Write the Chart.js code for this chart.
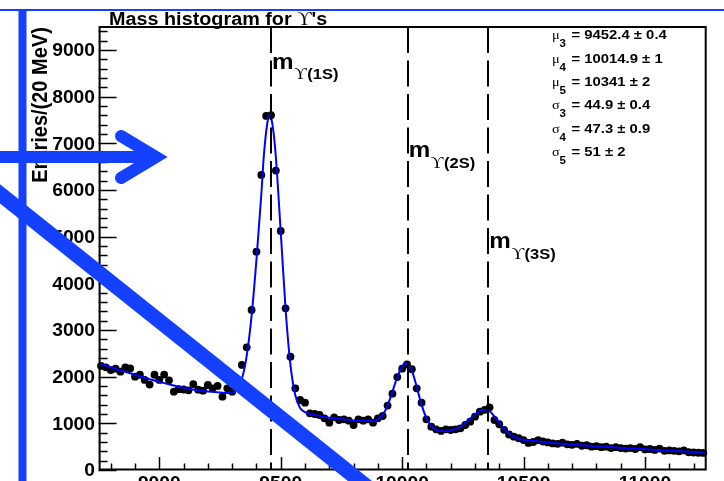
<!DOCTYPE html>
<html>
<head>
<meta charset="utf-8">
<script src="https://cdn.jsdelivr.net/npm/chart.js@4.4.0/dist/chart.umd.min.js"></script>
<style>
  html, body { margin: 0; padding: 0; background: #ffffff; overflow: hidden; }
  canvas { display: block; }
</style>
</head>
<body>
<canvas id="chart" width="724" height="481"></canvas>
<script>
// ---- histogram binning (20 MeV bins from 8750 to 11250 MeV) ----
const binLow = 8750;
const binWidth = 20;

// entries per bin
const binCounts = [
  2230, 2200, 2140, 2170, 2106, 2200, 2175, 2000, 2040, 1930,
  1830, 2040, 1930, 2045, 1920, 1678, 1732, 1725, 1707, 1840,
  1720, 1700, 1821, 1750, 1800, 1571, 1750, 1678, 1780, 2250,
  2629, 3428, 4678, 6321, 7585, 7600, 6414, 5121, 3464, 2428,
  1750, 1500, 1443, 1214, 1200, 1178, 1107, 1014, 1128, 1071,
  1086, 1057, 964, 1086, 1057, 1086, 1014, 1107, 1157, 1380,
  1635, 1990, 2170, 2260, 2160, 1750, 1443, 1086, 929, 871,
  836, 871, 857, 871, 893, 964, 1036, 1143, 1250, 1290,
  1343, 1071, 980, 860, 760, 714, 680, 640, 580, 600,
  640, 610, 590, 570, 560, 585, 550, 540, 560, 520,
  530, 500, 510, 490, 500, 470, 490, 470, 460, 470,
  450, 490, 440, 450, 430, 460, 410, 420, 410, 400,
  420, 380, 375, 370, 365
];

// fitted curve (three peaks on a falling background)
const fitMass = [
  8750, 8800, 8850, 8900, 8950, 9000, 9050, 9100, 9150, 9200,
  9250, 9280, 9300, 9320, 9340, 9360, 9380, 9400, 9420, 9430,
  9440, 9450, 9455, 9460, 9470, 9480, 9500, 9520, 9540, 9560,
  9580, 9600, 9620, 9650, 9700, 9750, 9800, 9850, 9880, 9900,
  9920, 9940, 9960, 9980, 10000, 10010, 10015, 10020, 10040, 10060,
  10080, 10100, 10120, 10140, 10160, 10180, 10200, 10220, 10240, 10260,
  10280, 10300, 10320, 10340, 10360, 10380, 10400, 10420, 10440, 10460,
  10480, 10500, 10550, 10600, 10700, 10800, 10900, 11000, 11100, 11200,
  11250
];
const fitValue = [
  2290, 2200, 2120, 2040, 1960, 1890, 1820, 1760, 1715, 1680,
  1660, 1650, 1660, 1720, 1950, 2450, 3300, 4500, 5900, 6700,
  7250, 7580, 7630, 7560, 7250, 6700, 5100, 3450, 2250, 1600,
  1330, 1240, 1200, 1170, 1120, 1090, 1060, 1050, 1050, 1080,
  1180, 1380, 1680, 1990, 2220, 2280, 2290, 2280, 2130, 1780,
  1400, 1110, 940, 860, 830, 830, 850, 880, 930, 1010,
  1100, 1190, 1260, 1290, 1260, 1150, 1010, 880, 780, 710,
  670, 645, 620, 590, 545, 510, 475, 445, 415, 385,
  370
];

// resonance masses marked by dashed lines, with their labels
const resonanceMasses = [9460, 10023, 10355];
const resonanceNames = ['(1S)', '(2S)', '(3S)'];
const resonanceLabelY = [8600, 6700, 4750];

// fit results box
const statSymbols = ['\u03bc', '\u03bc', '\u03bc', '\u03c3', '\u03c3', '\u03c3'];
const statIndices = ['3', '4', '5', '3', '4', '5'];
const statTexts = [
  '= 9452.4 \u00b1 0.4',
  '= 10014.9 \u00b1 1',
  '= 10341 \u00b1 2',
  '= 44.9 \u00b1 0.4',
  '= 47.3 \u00b1 0.9',
  '= 51 \u00b1 2'
];

// axis tick labels
const xTickLabels = [9000, 9500, 10000, 10500, 11000];
const yTickLabels = [0, 1000, 2000, 3000, 4000, 5000, 6000, 7000, 8000, 9000];

const chartTitle = 'Mass histogram for ';
const yAxisTitle = 'Entries/(20 MeV)';

// ---- drawing helpers ----
const SANS = '"Liberation Sans", Arial, Helvetica, sans-serif';
const SERIF = '"Liberation Serif", "DejaVu Serif", "Times New Roman", serif';
const STRETCH = 1.1;

function drawText(ctx, s, x, y, font, align) {
  ctx.save();
  ctx.font = font;
  ctx.fillStyle = '#000';
  ctx.textBaseline = 'alphabetic';
  ctx.textAlign = 'left';
  const w = ctx.measureText(s).width * STRETCH;
  let x0 = x;
  if (align === 'right') x0 = x - w;
  else if (align === 'center') x0 = x - w / 2;
  ctx.translate(x0, y);
  ctx.scale(STRETCH, 1);
  ctx.fillText(s, 0, 0);
  ctx.restore();
  return w;
}

const histoDecor = {
  id: 'histoDecor',
  afterDatasetsDraw(chart) {
    const ctx = chart.ctx;
    const xs = chart.scales.x, ys = chart.scales.y;
    const a = chart.chartArea;

    // dashed resonance lines
    ctx.save();
    ctx.strokeStyle = '#000';
    ctx.lineWidth = 2;
    ctx.setLineDash([26, 7.5]);
    resonanceMasses.forEach(m => {
      const px = Math.round(xs.getPixelForValue(m));
      ctx.beginPath();
      ctx.moveTo(px, a.top);
      ctx.lineTo(px, a.bottom);
      ctx.stroke();
    });
    ctx.restore();

    // frame
    ctx.save();
    ctx.strokeStyle = '#000';
    ctx.lineWidth = 2;
    ctx.strokeRect(a.left + 1, a.top, a.right - a.left - 1, a.bottom - a.top - 0.5);

    // x ticks (inside the frame)
    ctx.lineWidth = 1.5;
    ctx.beginPath();
    for (let v = 8800; v < 11250; v += 100) {
      const px = Math.round(xs.getPixelForValue(v)) + 0.5;
      const len = (v % 500 === 0) ? 13 : 6.5;
      ctx.moveTo(px, a.bottom);
      ctx.lineTo(px, a.bottom - len);
    }
    // y ticks
    for (let v = 0; v < 9490; v += 200) {
      const py = Math.round(ys.getPixelForValue(v)) + 0.5;
      const len = (v % 1000 === 0) ? 18 : 9;
      ctx.moveTo(a.left, py);
      ctx.lineTo(a.left + len, py);
    }
    ctx.stroke();
    ctx.restore();

    // tick labels
    const tickFont = 'bold 17.5px ' + SANS;
    yTickLabels.forEach(v => {
      drawText(ctx, String(v), 95, ys.getPixelForValue(v) + 6.3, tickFont, 'right');
    });
    xTickLabels.forEach(v => {
      drawText(ctx, String(v), xs.getPixelForValue(v), 489, tickFont, 'center');
    });

    // title
    let tx = 109;
    tx += drawText(ctx, chartTitle, tx, 25, 'bold 18px ' + SANS, 'left');
    tx += drawText(ctx, '\u03d2', tx, 25, '18px ' + SERIF, 'left');
    drawText(ctx, "'s", tx, 25, 'bold 18px ' + SANS, 'left');

    // y axis title (rotated)
    ctx.save();
    ctx.font = 'bold 20px ' + SANS;
    ctx.fillStyle = '#000';
    ctx.textAlign = 'center';
    ctx.textBaseline = 'alphabetic';
    ctx.translate(47, 105);
    ctx.scale(STRETCH, 1);
    ctx.rotate(-Math.PI / 2);
    ctx.fillText(yAxisTitle, 0, 0);
    ctx.restore();

    // resonance labels
    resonanceMasses.forEach((m, i) => {
      const px = xs.getPixelForValue(m) + 1;
      const py = ys.getPixelForValue(resonanceLabelY[i]);
      let lx = px;
      lx += drawText(ctx, 'm', lx, py, 'bold 22px ' + SANS, 'left');
      lx += drawText(ctx, '\u03d2', lx + 0.5, py + 10.5, '16px ' + SERIF, 'left') + 1;
      drawText(ctx, resonanceNames[i], lx, py + 10.5, 'bold 15px ' + SANS, 'left');
    });

    // fit results
    statTexts.forEach((t, i) => {
      const by = 39.3 + 23.3 * i;
      drawText(ctx, statSymbols[i], 552, by, '13px ' + SERIF, 'left');
      drawText(ctx, statIndices[i], 559.5, by + 8, 'bold 10.5px ' + SANS, 'left');
      drawText(ctx, t, 571.5, by, 'bold 13.5px ' + SANS, 'left');
    });
  },
  afterDraw(chart) {
    // hand-drawn blue pen marks over the figure
    const ctx = chart.ctx;
    ctx.save();
    ctx.strokeStyle = '#1440ff';
    ctx.fillStyle = '#1440ff';
    // thin line across the top
    ctx.lineWidth = 2;
    ctx.beginPath();
    ctx.moveTo(0, 10); ctx.lineTo(724, 10);
    ctx.stroke();
    // vertical stroke
    ctx.lineWidth = 8;
    ctx.beginPath();
    ctx.moveTo(22.5, 9); ctx.lineTo(22.5, 490);
    ctx.stroke();
    // arrow
    ctx.lineWidth = 12;
    ctx.lineCap = 'butt';
    ctx.beginPath();
    ctx.moveTo(-10, 157); ctx.lineTo(158, 157);
    ctx.stroke();
    ctx.lineCap = 'round';
    ctx.lineJoin = 'miter';
    ctx.miterLimit = 10;
    ctx.beginPath();
    ctx.moveTo(121, 136); ctx.lineTo(156, 157); ctx.lineTo(121, 178);
    ctx.stroke();
    // diagonal stroke
    ctx.lineWidth = 15;
    ctx.lineCap = 'butt';
    ctx.beginPath();
    ctx.moveTo(-20, 178); ctx.lineTo(380, 497);
    ctx.stroke();
    ctx.restore();
  }
};

const points = binCounts.map((c, i) => ({ x: binLow + binWidth * (i + 0.5), y: c }));
const fitPoints = fitMass.map((m, i) => ({ x: m, y: fitValue[i] }));

new Chart(document.getElementById('chart'), {
  type: 'scatter',
  data: {
    datasets: [
      {
        label: 'fit',
        data: fitPoints,
        showLine: true,
        borderColor: '#0000ff',
        borderWidth: 2,
        pointRadius: 0,
        cubicInterpolationMode: 'monotone',
        order: 1
      },
      {
        label: 'data',
        data: points,
        showLine: false,
        backgroundColor: '#000000',
        borderWidth: 0,
        pointRadius: 3.9,
        clip: false,
        order: 2
      }
    ]
  },
  options: {
    responsive: false,
    animation: false,
    devicePixelRatio: 1,
    events: [],
    layout: { padding: { left: 98.6, right: 18.3, top: 27, bottom: 11 } },
    plugins: { legend: { display: false }, tooltip: { enabled: false }, title: { display: false } },
    scales: {
      x: { type: 'linear', min: 8750, max: 11250, display: false },
      y: { type: 'linear', min: 0, max: 9490, display: false }
    }
  },
  plugins: [histoDecor]
});
</script>
</body>
</html>
